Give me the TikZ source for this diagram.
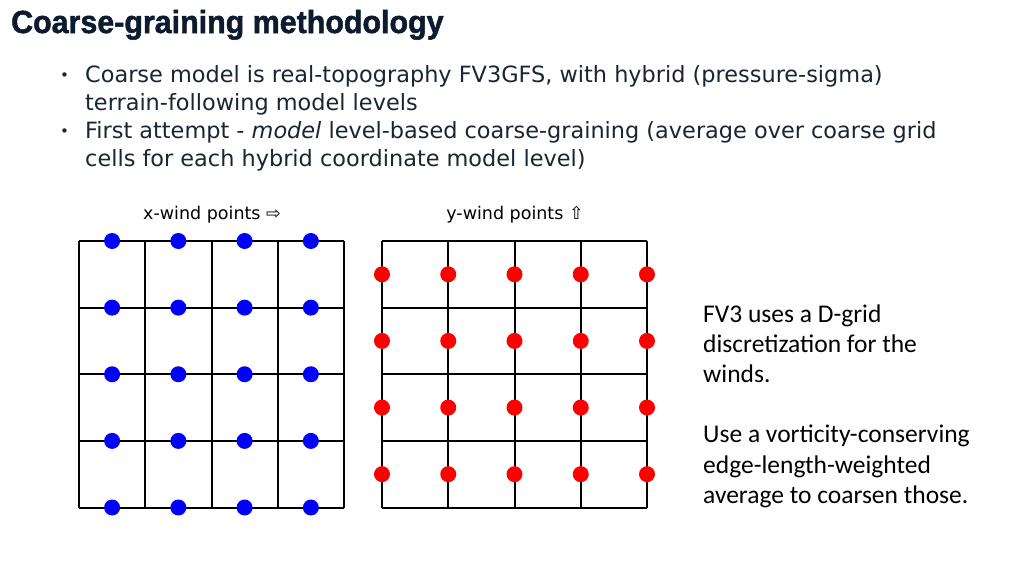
\documentclass[tikz,border=0pt]{standalone}
\usepackage{fontspec}
\setmainfont{DejaVu Sans}
\newfontfamily\titlefont[BoldFeatures={FakeBold=1.6}]{Liberation Sans}
\newfontfamily\calfont{Carlito}
\newfontfamily\dvfont{DejaVu Sans}
\definecolor{titlecol}{HTML}{0C1C2E}
\definecolor{textcol}{HTML}{1A2533}
\definecolor{dotblue}{RGB}{0,0,255}
\definecolor{dotred}{RGB}{255,0,0}
\tikzset{
  gridline/.style={line width=2pt, black},
  bdot/.style={circle, fill=dotblue, inner sep=0pt, minimum size=16pt},
  rdot/.style={circle, fill=dotred, inner sep=0pt, minimum size=16pt},
  txt/.style={inner sep=0pt, anchor=base west, align=left},
  bullettxt/.style={txt, text=textcol, font=\fontsize{22.4}{28}\selectfont},
  bulletmark/.style={txt, text=textcol, font=\fontsize{15}{18}\selectfont},
  gridlab/.style={inner sep=0pt, anchor=base, font=\dvfont\fontsize{17.5}{20}\selectfont},
}
\begin{document}
\begin{tikzpicture}[x=1pt,y=-1pt]
\useasboundingbox (0,0) rectangle (1024,576);
% title
\node[txt, text=titlecol] (title) at (11,33) {\scalebox{0.95}[1]{\titlefont\fontsize{32}{36}\selectfont\bfseries Coarse-graining methodology}};
% bullets (anchor = baseline of the last line)
\node[bulletmark] (b1dot) at (60,80) {•};
\node[bullettxt] (b1) at (85,110) {Coarse model is real-topography FV3GFS, with hybrid (pressure-sigma)\\terrain-following model levels};
\node[bulletmark] (b2dot) at (60,136) {•};
\node[bullettxt] (b2) at (85,166) {First attempt - \textit{model} level-based coarse-graining (average over coarse grid\\cells for each hybrid coordinate model level)};
% grid labels
\node[gridlab] (xlab) at (212,219) {x-wind points ⇨};
\node[gridlab] (ylab) at (515,219) {y-wind points ⇧};
% left grid
\foreach \i in {0,...,4} {
  \draw[gridline] (79+66.25*\i,241) -- (79+66.25*\i,507.5);
  \draw[gridline] (79,241+66.625*\i) -- (344,241+66.625*\i);
}
\foreach \i in {0,...,3} \foreach \j in {0,...,4} {
  \node[bdot] (xd\i\j) at (112.1+66.25*\i,241+66.625*\j) {};
}
% right grid
\foreach \i in {0,...,4} {
  \draw[gridline] (382+66.25*\i,241) -- (382+66.25*\i,507.5);
  \draw[gridline] (382,241+66.625*\i) -- (647,241+66.625*\i);
}
\foreach \i in {0,...,4} \foreach \j in {0,...,3} {
  \node[rdot] (yd\i\j) at (382+66.25*\i,274.3+66.625*\j) {};
}
% right text (anchor = baseline of the last line)
\node[txt, text=black, font=\calfont\fontsize{25.5}{30.2}\selectfont] (note) at (703,503.2) {FV3 uses a D-grid\\discretization for the\\winds.\\[30.2pt]Use a vorticity-conserving\\edge-length-weighted\\average to coarsen those.};
\end{tikzpicture}
\end{document}
